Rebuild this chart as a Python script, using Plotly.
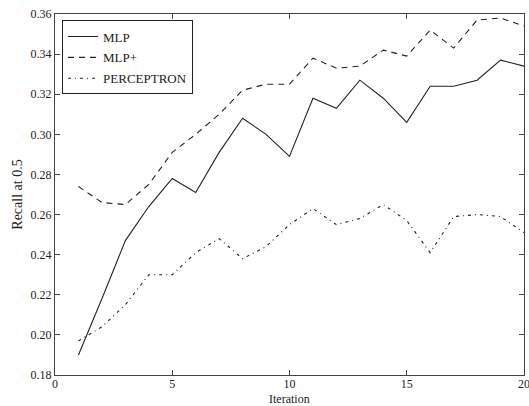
import plotly.graph_objects as go

iterations = list(range(1, 21))
mlp = [0.190, 0.218, 0.247, 0.264, 0.278, 0.271, 0.291, 0.308, 0.300, 0.289,
       0.318, 0.313, 0.327, 0.318, 0.306, 0.324, 0.324, 0.327, 0.337, 0.334]
mlp_plus = [0.274, 0.266, 0.265, 0.275, 0.291, 0.300, 0.310, 0.322, 0.325, 0.325,
            0.338, 0.333, 0.334, 0.342, 0.339, 0.352, 0.343, 0.357, 0.358, 0.354]
perceptron = [0.197, 0.204, 0.215, 0.230, 0.230, 0.241, 0.248, 0.238, 0.244, 0.255,
              0.263, 0.255, 0.258, 0.265, 0.257, 0.241, 0.259, 0.260, 0.259, 0.251]

line_color = "#222222"
fig = go.Figure()
fig.add_trace(go.Scatter(x=iterations, y=mlp, mode="lines", name="MLP", legendgroup="a",
                         line=dict(color=line_color, width=1.1)))
fig.add_trace(go.Scatter(x=iterations, y=mlp_plus, mode="lines", name="MLP+", legendgroup="b",
                         line=dict(color=line_color, width=1.1, dash="6px,5px")))
fig.add_trace(go.Scatter(x=iterations, y=perceptron, mode="lines", name="PERCEPTRON", legendgroup="c",
                         line=dict(color=line_color, width=1.1, dash="3px,4px,1px,4px")))

font = dict(family="Liberation Serif, Times New Roman, serif", size=12, color="#222222")
fig.update_layout(
    width=529, height=406,
    margin=dict(l=55, r=5, t=14, b=31),
    paper_bgcolor="white", plot_bgcolor="white",
    font=font,
    showlegend=True,
    legend=dict(x=0.015, y=0.982, xanchor="left", yanchor="top",
                bgcolor="white", bordercolor="#222222", borderwidth=1,
                itemwidth=30, tracegroupgap=1,
                font=dict(family=font["family"], size=13, color="#222222")),
    annotations=[dict(text="Iteration", x=0.5, xref="paper", y=0, yref="paper",
                      xanchor="center", yanchor="top", yshift=-16, showarrow=False,
                      borderpad=0,
                      font=dict(family=font["family"], size=12, color="#222222"))],
)
fig.update_xaxes(range=[0, 20], dtick=5, tick0=0, showgrid=False, zeroline=False,
                 showline=True, linecolor="#444444", linewidth=1, mirror="ticks",
                 ticks="inside", ticklen=5, tickcolor="#444444", automargin=False,
                 ticklabeloverflow="allow", ticklabelstandoff=-2)
fig.update_yaxes(range=[0.18, 0.36], dtick=0.02, tick0=0.18, tickformat=".2f",
                 showgrid=False, zeroline=False, automargin=False,
                 showline=True, linecolor="#444444", linewidth=1, mirror="ticks",
                 ticks="inside", ticklen=5, tickcolor="#444444",
                 title=dict(text="Recall at 0.5", standoff=4))

fig.write_html("out.html")
